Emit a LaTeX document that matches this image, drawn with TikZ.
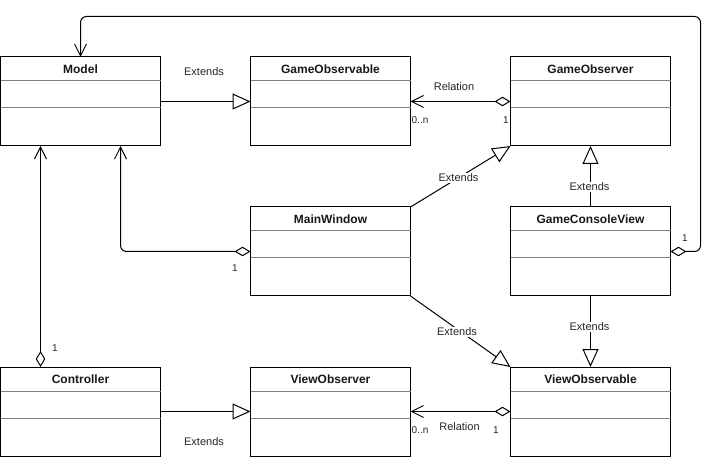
\documentclass[tikz,border=0pt]{standalone}
\usepackage{fontspec}
\setmainfont{Liberation Sans}
\usetikzlibrary{arrows.meta,calc}
\newcommand\umlclass[4]{%
  \node[cls, anchor=north west] (#1) at (#2,#3) {};
  \node[clstitle] (#1t) at ($(#1.north)+(0,12.5)$) {#4};
  \draw[clssep] ($(#1.north west)+(0,24)$) -- ($(#1.north east)+(0,24)$);
  \draw[clssep] ($(#1.north west)+(0,51)$) -- ($(#1.north east)+(0,51)$);
}
\begin{document}
\begin{tikzpicture}[x=1pt,y=-1pt,
  cls/.style={draw=black, line width=1pt, fill=white, minimum width=160pt, minimum height=89pt, inner sep=0pt, outer sep=0pt},
  clstitle/.style={font=\fontsize{12}{14}\selectfont\bfseries, text=black!90, inner sep=0pt},
  clssep/.style={draw=black!50, line width=1pt},
  conn/.style={line width=1pt, draw=black},
  ext/.style={conn, -{Triangle[open, length=18pt, width=16pt, line width=1pt]}},
  agg/.style={conn, {Diamond[open, length=16pt, width=9.5pt, line width=1pt]}-{Straight Barb[length=12pt, width=12pt, line width=1pt]}},
  lbl/.style={font=\fontsize{11}{13}\selectfont, text=black!85, inner sep=1pt},
  mult/.style={font=\fontsize{10}{12}\selectfont, text=black!85, inner sep=0pt},
]
\useasboundingbox[fill=white] (0,0) rectangle (718,457);

\umlclass{model}{0.5}{57}{Model}
\umlclass{gobs}{250.5}{57}{GameObservable}
\umlclass{gobsr}{510.5}{57}{GameObserver}
\umlclass{mw}{250.5}{207}{MainWindow}
\umlclass{gcv}{510.5}{207}{GameConsoleView}
\umlclass{ctrl}{0.5}{367}{Controller}
\umlclass{vobsr}{250.5}{367}{ViewObserver}
\umlclass{vobs}{510.5}{367}{ViewObservable}

\coordinate (topright) at (700.5,16.5);

% Model -> GameObservable
\draw[ext] (model.east) -- (gobs.west);
\node[lbl] (l1) at (204,72) {Extends};

% GameObserver -> GameObservable
\draw[agg] (gobsr.west) -- (gobs.east);
\node[lbl] (l2) at (454,87) {Relation};
\node[mult] (m1) at (420,120) {0..n};
\node[mult] (m2) at (506,120) {1};

% GameConsoleView -> Model (top loop)
\draw[agg, rounded corners=6pt] (gcv.east) -| (topright) -| (model.north);
\node[mult] (m3) at (685,238) {1};

% MainWindow -> GameObserver
\draw[ext] (mw.north east) -- (gobsr.south west);
\node[lbl, fill=white] (l3) at (458.5,178) {Extends};

% GameConsoleView -> GameObserver
\draw[ext] (gcv.north) -- (gobsr.south);
\node[lbl, fill=white] (l4) at (589.5,187) {Extends};

% MainWindow -> Model
\draw[agg, rounded corners=6pt] (mw.west) -| ($(model.south west)!0.75!(model.south east)$);
\node[mult] (m4) at (235,268) {1};

% Controller -> Model
\draw[agg] ($(ctrl.north west)!0.25!(ctrl.north east)$) -- ($(model.south west)!0.25!(model.south east)$);
\node[mult] (m5) at (55,348) {1};

% MainWindow -> ViewObservable
\draw[ext] (mw.south east) -- (vobs.north west);
\node[lbl, fill=white] (l5) at (457,332) {Extends};

% GameConsoleView -> ViewObservable
\draw[ext] (gcv.south) -- (vobs.north);
\node[lbl, fill=white] (l6) at (589.5,327) {Extends};

% Controller -> ViewObserver
\draw[ext] (ctrl.east) -- (vobsr.west);
\node[lbl] (l7) at (204,442) {Extends};

% ViewObservable -> ViewObserver
\draw[agg] (vobs.west) -- (vobsr.east);
\node[lbl] (l8) at (459.5,427) {Relation};
\node[mult] (m6) at (420,430) {0..n};
\node[mult] (m7) at (496,430) {1};
\end{tikzpicture}
\end{document}
